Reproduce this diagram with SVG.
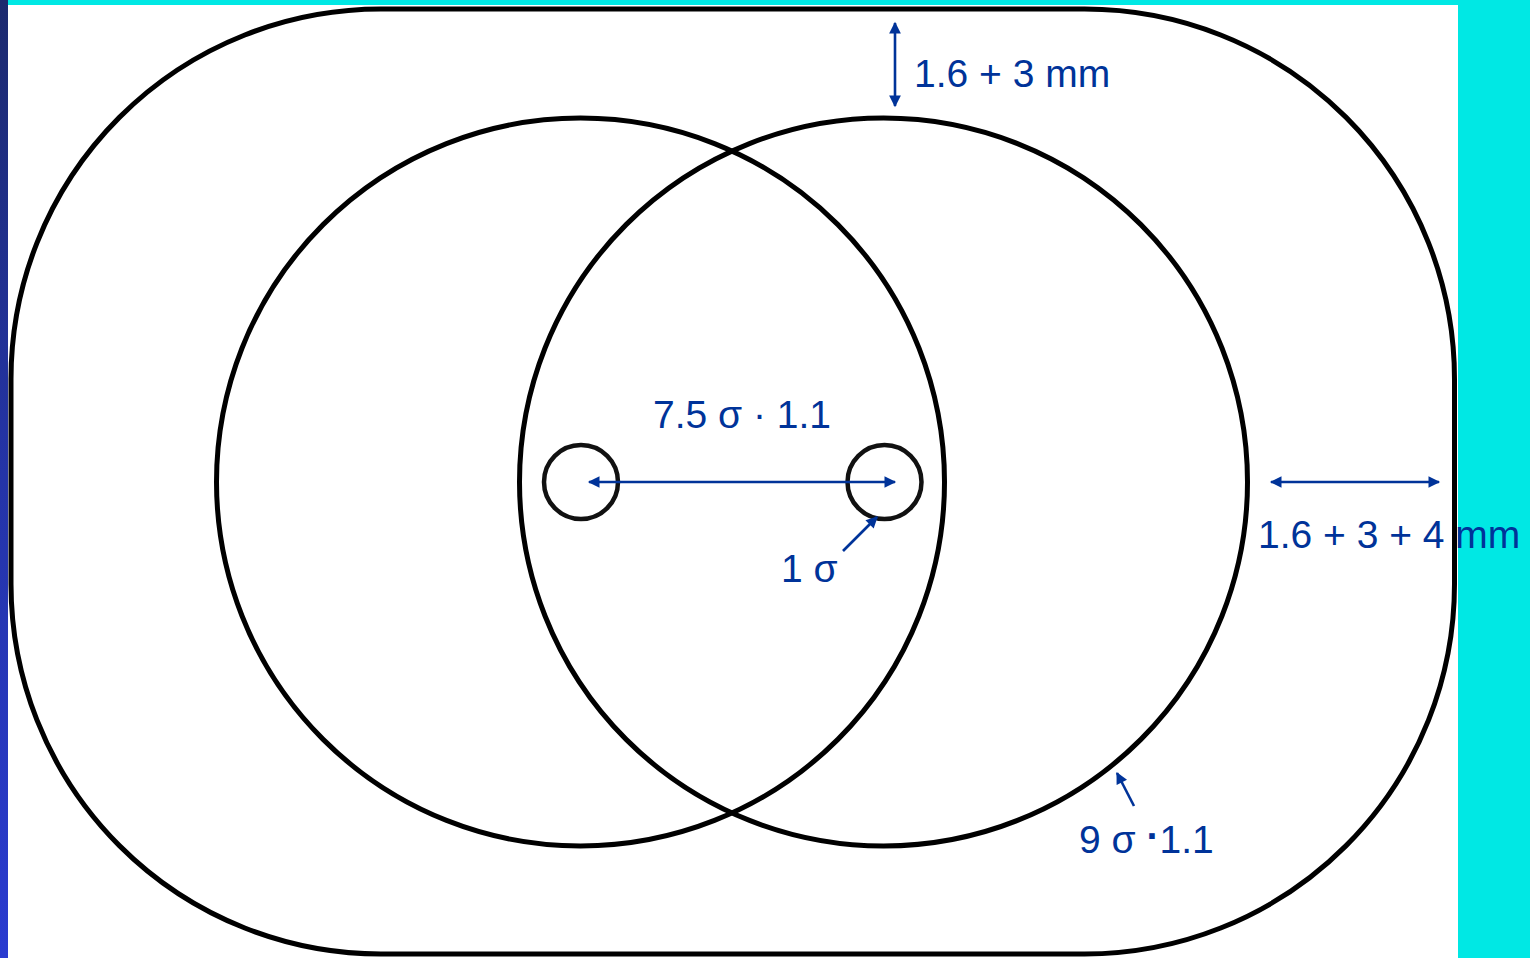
<svg xmlns="http://www.w3.org/2000/svg" width="1530" height="958" viewBox="0 0 1530 958">
  <defs>
    <linearGradient id="leftbar" x1="0" y1="0" x2="0" y2="1">
      <stop offset="0" stop-color="#1c2a6e"/>
      <stop offset="0.5" stop-color="#2434a8"/>
      <stop offset="1" stop-color="#2a3bd0"/>
    </linearGradient>
    <marker id="ah" viewBox="0 0 10 10" refX="9" refY="5" markerWidth="5" markerHeight="4.5" orient="auto-start-reverse" markerUnits="strokeWidth">
      <path d="M0,0 L10,5 L0,10 Z" fill="#003399"/>
    </marker>
    <style>
      .shape { fill: none; stroke: #000; stroke-width: 5; }
      .small { fill: none; stroke: #111; stroke-width: 4.5; }
      .dim { stroke: #003399; stroke-width: 2.6; fill: none; }
      .lbl { font-family: "Liberation Sans", Arial, sans-serif; font-size: 39px; fill: #003399; }
    </style>
  </defs>

  <!-- backdrop -->
  <rect x="0" y="0" width="1530" height="958" fill="#00e8e4"/>
  <rect x="0" y="0" width="8" height="958" fill="url(#leftbar)"/>
  <rect x="8" y="5" width="1450" height="953" fill="#ffffff"/>

  <g id="outer-boundary">
    <rect class="shape" x="11" y="9" width="1443.5" height="945" rx="370" ry="370"/>
  </g>

  <g id="left-large-circle">
    <circle class="shape" cx="580.5" cy="482" r="364"/>
  </g>
  <g id="right-large-circle">
    <circle class="shape" cx="883.5" cy="482" r="364"/>
  </g>

  <g id="left-small-circle">
    <circle class="small" cx="581" cy="482" r="37"/>
  </g>
  <g id="right-small-circle">
    <circle class="small" cx="884.5" cy="482" r="37"/>
  </g>

  <g id="connectors">
    <line class="dim" x1="589" y1="482" x2="895" y2="482" marker-start="url(#ah)" marker-end="url(#ah)"/>
    <line class="dim" x1="895" y1="23" x2="895" y2="106" marker-start="url(#ah)" marker-end="url(#ah)"/>
    <line class="dim" x1="1271" y1="482" x2="1439" y2="482" marker-start="url(#ah)" marker-end="url(#ah)"/>
    <line class="dim" x1="843" y1="551" x2="877" y2="517" marker-end="url(#ah)"/>
    <line class="dim" x1="1134" y1="806" x2="1117" y2="773" marker-end="url(#ah)"/>
  </g>

  <g id="labels">
    <text class="lbl" x="653" y="428">7.5 σ · 1.1</text>
    <text class="lbl" x="781" y="582">1 σ</text>
    <text class="lbl" x="914" y="87">1.6 + 3 mm</text>
    <text class="lbl" x="1258" y="548">1.6 + 3 + 4 mm</text>
    <text class="lbl" x="1079" y="853">9 σ <tspan dy="-4" font-weight="bold">·</tspan><tspan dy="4">1.1</tspan></text>
  </g>
</svg>
